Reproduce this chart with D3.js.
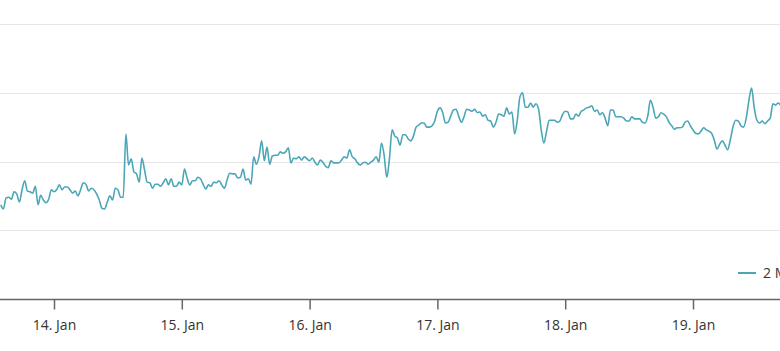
<!DOCTYPE html>
<html>
<head>
<meta charset="utf-8">
<script src="https://cdn.jsdelivr.net/npm/d3@7"></script>
<style>
  body { margin: 0; background: #fff; }
  svg { display: block; font-family: "Open Sans", sans-serif; }
</style>
</head>
<body>
<div id="chart"></div>
<script>
// series: one reading every 30 minutes, starting 13 Jan 14:00
const seriesName = "2 M";
const startTime = new Date(2024, 0, 13, 14, 0);
const stepMinutes = 30;
const values = [
  137, 131, 147, 148, 145, 156, 153, 141, 159, 172,
  157, 156, 154, 164, 137, 151, 144, 140, 145, 159,
  156, 159, 166, 159, 163, 163, 159, 154, 157, 150,
  159, 169, 167, 157, 161, 159, 153, 144, 132, 131,
  141, 150, 144, 161, 159, 148, 148, 240, 195, 204,
  185, 182, 170, 205, 188, 170, 169, 161, 167, 167,
  164, 169, 175, 166, 175, 164, 164, 170, 166, 189,
  176, 166, 172, 172, 177, 175, 167, 160, 166, 164,
  170, 169, 172, 166, 161, 173, 183, 182, 182, 176,
  177, 189, 173, 175, 167, 207, 196, 207, 230, 201,
  221, 196, 208, 209, 209, 214, 212, 214, 220, 198,
  205, 204, 207, 202, 207, 204, 201, 205, 199, 195,
  202, 199, 193, 191, 201, 198, 198, 198, 202, 207,
  205, 217, 207, 204, 198, 195, 198, 199, 196, 199,
  202, 207, 199, 227, 209, 177, 205, 246, 237, 234,
  224, 239, 239, 233, 230, 237, 250, 253, 256, 256,
  250, 250, 252, 259, 273, 278, 271, 256, 257, 266,
  275, 276, 266, 257, 265, 276, 275, 273, 276, 271,
  272, 266, 268, 260, 259, 250, 257, 269, 268, 266,
  278, 269, 272, 240, 260, 294, 300, 279, 279, 285,
  279, 284, 276, 246, 227, 244, 260, 260, 260, 257,
  259, 268, 273, 272, 262, 262, 269, 266, 273, 275,
  278, 279, 281, 273, 275, 268, 271, 263, 252, 275,
  275, 265, 265, 265, 263, 259, 259, 265, 262, 262,
  262, 257, 256, 266, 289, 279, 263, 265, 271, 269,
  265, 257, 252, 247, 249, 249, 250, 257, 259, 252,
  246, 241, 240, 244, 249, 246, 244, 241, 231, 218,
  225, 230, 224, 217, 231, 250, 260, 259, 252, 250,
  263, 289, 307, 278, 260, 256, 259, 255, 259, 263,
  284, 282, 285, 281
];
const tickDates = [
  new Date(2024, 0, 14), new Date(2024, 0, 15), new Date(2024, 0, 16),
  new Date(2024, 0, 17), new Date(2024, 0, 18), new Date(2024, 0, 19)
];
const gridValues = [0, 100, 200, 300, 400];

const data = values.map((v, i) => ({
  time: d3.timeMinute.offset(startTime, i * stepMinutes),
  value: v
}));

const width = 780, height = 351;
const plotTop = 24, plotBottom = 299;

const svg = d3.select("#chart")
  .append("svg")
  .attr("width", width)
  .attr("height", height);

// X axis: days, the view is cropped so the plot runs off both edges
const x = d3.scaleTime()
  .domain([tickDates[0], tickDates[tickDates.length - 1]])
  .range([54, 693]);

const y = d3.scaleLinear()
  .domain([0, 400])
  .range([plotBottom, plotTop]);

// grid lines
svg.append("g")
  .selectAll("line")
  .data(gridValues.filter(d => d > 0))
  .join("line")
  .attr("x1", 0)
  .attr("x2", width)
  .attr("y1", d => Math.round(y(d)) + 0.5)
  .attr("y2", d => Math.round(y(d)) + 0.5)
  .attr("stroke", "#e6e6e6")
  .attr("stroke-width", 1);

// series line
svg.append("defs").append("clipPath")
  .attr("id", "plotClip")
  .append("rect")
  .attr("x", 0).attr("y", 0)
  .attr("width", width).attr("height", plotBottom);

const line = d3.line()
  .x(d => x(d.time))
  .y(d => y(d.value))
  .curve(d3.curveMonotoneX);

svg.append("path")
  .datum(data)
  .attr("clip-path", "url(#plotClip)")
  .attr("fill", "none")
  .attr("stroke", "#4ba6b8")
  .attr("stroke-width", 1.6)
  .attr("stroke-linejoin", "round")
  .attr("d", line);

// bottom axis
const xAxis = d3.axisBottom(x)
  .tickValues(tickDates)
  .tickSize(10)
  .tickPadding(11)
  .tickFormat(d3.timeFormat("%-d. %b"));

const gx = svg.append("g")
  .attr("transform", `translate(0, ${plotBottom + 0.5})`)
  .call(xAxis);

gx.select(".domain").remove();
gx.insert("line", ":first-child")
  .attr("x1", 0).attr("x2", width)
  .attr("stroke", "#666")
  .attr("stroke-width", 1.5);

gx.selectAll(".tick line")
  .attr("stroke", "#666")
  .attr("stroke-width", 1.5);

gx.selectAll(".tick text")
  .attr("fill", "#333")
  .style("font-size", "14px")
  .style("font-family", "'Open Sans', sans-serif");

// legend (runs off the right edge)
const legend = svg.append("g")
  .attr("transform", "translate(738, 273)");

legend.append("line")
  .attr("x1", 0).attr("x2", 18)
  .attr("y1", 0).attr("y2", 0)
  .attr("stroke", "#4ba6b8")
  .attr("stroke-width", 2);

legend.append("text")
  .attr("x", 25)
  .attr("y", 5)
  .attr("fill", "#333")
  .style("font-size", "14px")
  .text(seriesName);
</script>
</body>
</html>
